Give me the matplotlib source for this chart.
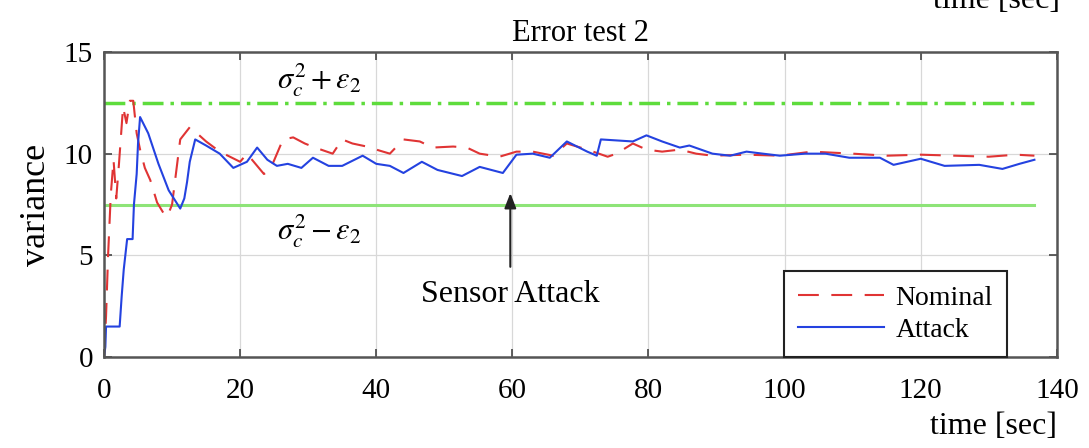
import matplotlib
matplotlib.use("Agg")
import matplotlib.pyplot as plt

plt.rcParams['font.family'] = ['Liberation Serif', 'DejaVu Serif']
plt.rcParams['mathtext.fontset'] = 'stix'

# variance estimates over time
t_attack = [0, 0.2, 0.3, 2.3, 2.6, 2.9, 3.4, 4.2, 4.4, 4.8, 5.0, 5.3, 6.5, 8, 9.5, 11.2,
            11.8, 12.2, 12.6, 13.4, 15, 17, 19, 21, 22.5, 24, 25.4, 27, 29, 30.7, 33, 35,
            38, 40, 42, 44, 46.7, 49, 52.6, 55.2, 58.6, 60.6, 63, 65.5, 68, 71, 72.4, 73,
            77.7, 79.7, 82, 84.6, 86, 89.4, 92, 94.4, 96.8, 99.3, 103, 106, 109.5, 114,
            116, 120, 123.5, 128.6, 132, 134.5, 136.7]
v_attack = [0, 0.5, 1.5, 1.5, 3, 4.3, 5.8, 5.8, 7.5, 9.0, 10.5, 11.8, 11.0, 9.5, 8.2, 7.3,
            7.8, 8.6, 9.6, 10.7, 10.4, 10.0, 9.3, 9.6, 10.3, 9.7, 9.4, 9.5, 9.3, 9.8, 9.4, 9.4,
            9.9, 9.5, 9.4, 9.05, 9.6, 9.2, 8.9, 9.35, 9.05, 9.95, 10.0, 9.8, 10.6, 10.1, 9.9, 10.7,
            10.6, 10.9, 10.6, 10.3, 10.4, 10.0, 9.9, 10.1, 10.0, 9.9, 10.0, 10.0, 9.8, 9.8,
            9.45, 9.75, 9.4, 9.45, 9.25, 9.5, 9.7]

t_nominal = [0, 0.3, 0.6, 1.0, 1.4, 1.8, 2.2, 2.8, 3.3, 3.8, 4.3, 4.8, 5.3, 6.0, 6.8, 7.8,
             8.7, 9.3, 10.0, 11.2, 12.6, 14, 15, 17, 18.5, 20, 21, 22.5, 23.5, 24.4, 26.3,
             27.8, 29.5, 31, 33.6, 35, 36.5, 38.6, 40, 42, 44, 46.4, 48.3, 51.3, 53.3, 55.2,
             58.1, 60.6, 63, 66, 68, 71, 74, 75.3, 77.7, 79.7, 82, 84.6, 87, 89.4, 94.4, 99.3,
             104, 110, 115, 120, 125, 130, 134, 136.7]
v_nominal = [0, 2.0, 5.0, 8.0, 9.7, 7.8, 9.5, 12.3, 11.5, 12.6, 12.6, 11.0, 10.2, 9.3, 8.7, 7.6,
             7.1, 6.9, 7.5, 10.7, 11.3, 10.9, 10.6, 10.1, 9.85, 9.6, 10.0, 9.4, 9.0, 9.2, 10.7,
             10.8, 10.5, 10.3, 10.0, 10.7, 10.5, 10.35, 10.2, 10.0, 10.7, 10.6, 10.3, 10.35, 10.3, 10.0,
             9.85, 10.1, 10.1, 9.9, 10.5, 10.2, 9.85, 10.0, 10.5, 10.2, 10.1, 10.2, 10.0, 9.9, 9.95, 9.9,
             10.1, 10.0, 9.9, 9.95, 9.9, 9.85, 9.95, 9.9]

upper_bound = 12.5
lower_bound = 7.5
t_end = 136.7
attack_time = 59.7

fig = plt.figure(figsize=(10.89, 4.48), dpi=100)
ax = fig.add_axes([0.0955, 0.203, 0.875, 0.681])

ax.plot([0, t_end], [upper_bound, upper_bound], color='#5edc3c', lw=2.5,
        linestyle=(0, (6, 2, 1, 2)))
ax.plot([0, t_end], [lower_bound, lower_bound], color='#8ee478', lw=2.2)
l_nom, = ax.plot(t_nominal, v_nominal, color='#e03434', lw=1.5,
                 linestyle=(0, (10, 6)), label='Nominal')
l_att, = ax.plot(t_attack, v_attack, color='#2442e0', lw=1.5, label='Attack')

ax.set_xlim(0, 140)
ax.set_ylim(0, 15)
ax.set_xticks(range(0, 141, 20))
ax.set_yticks([0, 5, 10, 15])
ax.grid(True, color='#d8d8d8', lw=0.9)
ax.tick_params(direction='in', top=True, right=True, length=6, width=1.2,
               color='#444444', labelsize=21)
ax.tick_params(axis='x', pad=15)
ax.tick_params(axis='y', pad=8)
for s in ax.spines.values():
    s.set_color('#555555')
    s.set_linewidth(1.8)

ax.set_title('Error test 2', fontsize=22, pad=8)
ax.set_ylabel('variance', fontsize=26, labelpad=8)
ax.set_xlabel('time [sec]', fontsize=23, loc='right', labelpad=6)

ax.text(31.7, 13.6, r'$\sigma_c^2 + \epsilon_2$', fontsize=22, ha='center', va='center')
ax.text(31.7, 6.2, r'$\sigma_c^2 - \epsilon_2$', fontsize=22, ha='center', va='center')

ax.annotate('', xy=(attack_time, 8.2), xytext=(attack_time, 4.3),
            arrowprops=dict(arrowstyle='-|>,head_width=0.35,head_length=0.9',
                            color='#222222', lw=1.5))
ax.text(attack_time, 3.1, 'Sensor Attack', fontsize=23, ha='center', va='center')

leg = ax.legend(handles=[l_nom, l_att], loc='lower right', bbox_to_anchor=(0.9475, 0.0),
                borderaxespad=0, fontsize=20, handlelength=3.1, fancybox=False,
                framealpha=1, edgecolor='#222222', borderpad=0.5, labelspacing=0.25,
                handletextpad=0.4)
leg.get_frame().set_linewidth(1.5)

# caption of the panel above, cut off by the top edge
fig.text(1060 / 1089, 1 - 8 / 448, 'time [sec]', fontsize=23, ha='right', va='baseline')

fig.savefig('out.png', dpi=100)
